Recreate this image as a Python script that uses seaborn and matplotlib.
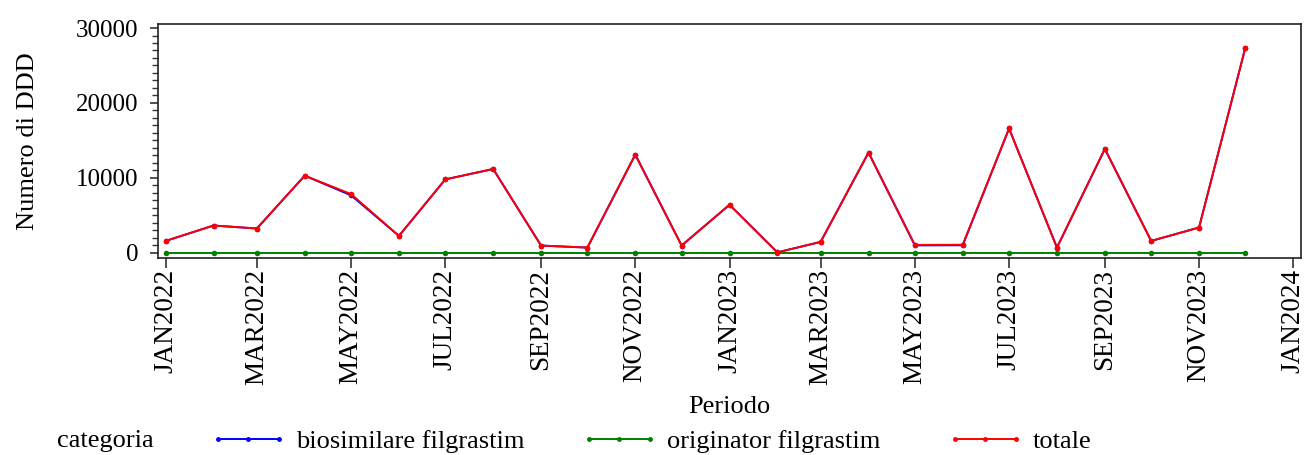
import numpy as np
import pandas as pd
import matplotlib
matplotlib.use("Agg")
import matplotlib.pyplot as plt
import matplotlib.dates as mdates
from matplotlib.ticker import MultipleLocator
from matplotlib.lines import Line2D
import seaborn as sns

# ---- data ----
periodi = pd.date_range("2022-01-01", "2023-12-01", freq="MS")
totale = [1560, 3620, 3220, 10280, 7820, 2230, 9780, 11170, 940, 670, 13090, 940,
          6390, 30, 1430, 13360, 1030, 1050, 16580, 670, 13850, 1560, 3350, 27390]
originator = [0, 0, 0, 0, 0, 0, 0, 0, 0, 0, 0, 0,
              0, 0, 0, 0, 0, 0, 0, 0, 0, 0, 0, 0]
biosimilare = [1560, 3620, 3220, 10280, 7650, 2230, 9780, 11170, 940, 670, 13090, 940,
               6390, 30, 1430, 13360, 960, 980, 16580, 670, 13850, 1560, 3350, 27390]
categorie = ["biosimilare filgrastim", "originator filgrastim", "totale"]
colori = ["#0000FF", "#008000", "#FF0000"]

df = pd.DataFrame({
    "Periodo": list(periodi) * 3,
    "valore": biosimilare + originator + totale,
    "categoria": [categorie[0]] * 24 + [categorie[1]] * 24 + [categorie[2]] * 24,
})

sns.set_style("ticks")
plt.rcParams["font.family"] = ["Liberation Serif", "DejaVu Serif"]
plt.rcParams["text.color"] = "black"
plt.rcParams["axes.labelcolor"] = "black"
plt.rcParams["xtick.color"] = "black"
plt.rcParams["ytick.color"] = "black"

fig = plt.figure(figsize=(13.04, 4.55), dpi=100)
ax = fig.add_axes([158 / 1304, 1 - 258 / 455, (1301 - 158) / 1304, (258 - 24) / 455])

sns.lineplot(data=df, x="Periodo", y="valore", hue="categoria", hue_order=categorie,
             palette=colori, marker="o", markersize=4, markeredgewidth=0,
             linewidth=1.4, ax=ax, legend=False)

ax.set_xlim(pd.Timestamp("2021-12-27"), pd.Timestamp("2024-01-06"))
ax.set_ylim(-720, 30540)
ax.xaxis.set_major_locator(mdates.MonthLocator(bymonth=[1, 3, 5, 7, 9, 11]))
fig.canvas.draw()
ticks = ax.get_xticks()
labels = [mdates.num2date(t).strftime("%b%Y").upper() for t in ticks]
ax.set_xticks(ticks)
ax.set_xticklabels(labels, rotation=90)

ax.yaxis.set_major_locator(MultipleLocator(10000))
ax.yaxis.set_minor_locator(MultipleLocator(1000))
ax.tick_params(axis="x", which="major", labelsize=19.5, length=7, width=1.2,
               color="#333333", labelcolor="black", pad=1)
ax.tick_params(axis="y", which="major", labelsize=18, length=6, width=1.2,
               color="#333333", labelcolor="black", pad=8)
ax.tick_params(axis="y", which="minor", length=4, width=1.0, color="#333333")
ax.set_xlabel("Periodo", fontsize=19, labelpad=8, color="black")
ax.set_ylabel("Numero di DDD", fontsize=19, labelpad=27, color="black")
for s in ax.spines.values():
    s.set_color("#222222")
    s.set_linewidth(1.2)

legend_x = [210, 581, 947]
for c, lab, xp in zip(colori, categorie, legend_x):
    h = Line2D([0], [0], color=c, lw=1.4, marker="o", markersize=2.5)
    fig.legend([h], [lab], loc="center left", bbox_to_anchor=(xp / 1304, 1 - 441 / 455),
               frameon=False, fontsize=19, numpoints=3, handlelength=2.9,
               handletextpad=0.35, borderaxespad=0, borderpad=0,
               labelcolor="black")
fig.text(57 / 1304, 1 - 441 / 455, "categoria", fontsize=19, va="center", ha="left",
         color="black")

fig.savefig("out.png", dpi=100)
